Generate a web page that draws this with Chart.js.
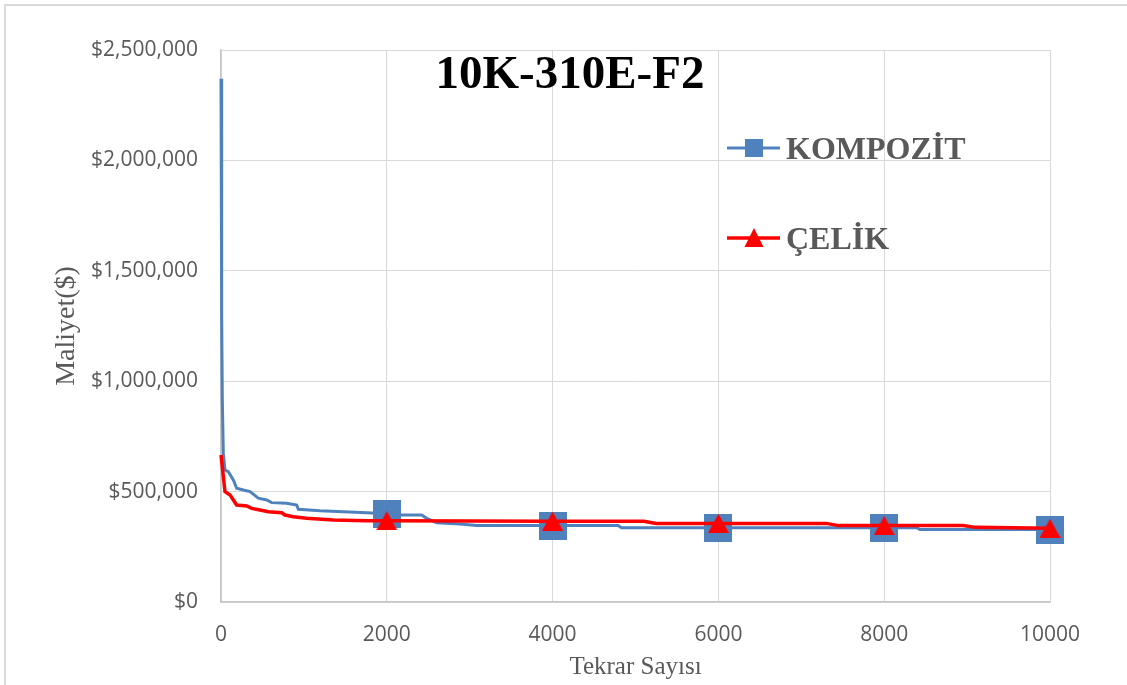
<!DOCTYPE html>
<html>
<head>
<meta charset="utf-8">
<title>10K-310E-F2</title>
<script src="https://cdn.jsdelivr.net/npm/chart.js@4/dist/chart.umd.min.js"></script>
<style>
  html, body { margin: 0; padding: 0; background: #ffffff; }
  #chart { display: block; }
</style>
</head>
<body>
<canvas id="chart" width="1127" height="685"></canvas>
<script>
// Iteration count (x) and cost (y) for the composite series
const kompozitX = [0, 8, 16, 28, 48, 88, 149, 189, 269, 350, 450, 551, 611, 792, 913, 933, 1194, 1757, 2000, 2180, 2421, 2481, 2602, 2883, 3084, 4000, 4790, 4830, 6000, 8000, 8394, 8430, 10000];
const kompozitY = [2370000, 1300000, 915000, 673000, 598000, 590000, 553000, 515000, 507000, 500000, 470000, 462000, 450000, 447000, 439000, 420000, 413000, 404000, 400000, 394000, 394000, 379000, 359000, 353000, 346000, 346000, 346000, 336000, 336000, 336000, 336000, 328000, 328000];

// Iteration count (x) and cost (y) for the steel series
const celikX = [0, 48, 109, 149, 189, 310, 370, 470, 571, 732, 772, 872, 1033, 1355, 1757, 2000, 4000, 5100, 5250, 6000, 7300, 7450, 8000, 8950, 9100, 10000];
const celikY = [666000, 500000, 485000, 462000, 439000, 435000, 424000, 417000, 409000, 404000, 394000, 386000, 379000, 371000, 368000, 368000, 366000, 366000, 356000, 356000, 356000, 346000, 346000, 346000, 338000, 334000];

// Iterations that carry a marker
const markerX = [2000, 4000, 6000, 8000, 10000];

// Axis tick labels
const xTickLabels = ['0', '2000', '4000', '6000', '8000', '10000'];
const yTickLabels = ['$0', '$500,000', '$1,000,000', '$1,500,000', '$2,000,000', '$2,500,000'];

const seriesNames = ['KOMPOZİT', 'ÇELİK'];
const chartTitle = '10K-310E-F2';

const BLUE = '#4f81bd';
const RED = '#ff0000';
const GRAY_TEXT = '#595959';

// Marker images: filled square and filled triangle
function makeSquare(size, color) {
  const c = document.createElement('canvas');
  c.width = size; c.height = size;
  const g = c.getContext('2d');
  g.fillStyle = color;
  g.fillRect(0, 0, size, size);
  return c;
}
function makeTriangle(w, h, color) {
  const c = document.createElement('canvas');
  c.width = w; c.height = h;
  const g = c.getContext('2d');
  g.fillStyle = color;
  g.beginPath();
  g.moveTo(w / 2, 0);
  g.lineTo(w, h);
  g.lineTo(0, h);
  g.closePath();
  g.fill();
  return c;
}
const squareImg = makeSquare(28, BLUE);
const triangleImg = makeTriangle(21, 19, RED);

const toPoints = (xs, ys) => xs.map((x, i) => ({ x: x, y: ys[i] }));
const markerRadius = (ctx) => (ctx.raw && markerX.includes(ctx.raw.x)) ? 10 : 0;

// Frame around the whole figure
const framePlugin = {
  id: 'frame',
  beforeDraw(chart) {
    const ctx = chart.ctx;
    ctx.save();
    ctx.fillStyle = '#ffffff';
    ctx.fillRect(0, 0, chart.width, chart.height);
    ctx.strokeStyle = '#d9d9d9';
    ctx.lineWidth = 2;
    ctx.beginPath();
    ctx.moveTo(5, chart.height + 2);
    ctx.lineTo(5, 5);
    ctx.lineTo(chart.width + 2, 5);
    ctx.stroke();
    ctx.restore();
  }
};

// Title and series key drawn inside the plot area
const overlayPlugin = {
  id: 'overlay',
  afterDraw(chart) {
    const ctx = chart.ctx;
    ctx.save();
    ctx.fillStyle = '#000000';
    ctx.font = 'bold 47px "Liberation Serif", "Times New Roman", serif';
    ctx.textAlign = 'center';
    ctx.textBaseline = 'alphabetic';
    ctx.fillText(chartTitle, 570, 88);

    // KOMPOZİT key
    ctx.strokeStyle = BLUE;
    ctx.lineWidth = 3;
    ctx.beginPath();
    ctx.moveTo(727, 148);
    ctx.lineTo(780, 148);
    ctx.stroke();
    ctx.fillStyle = BLUE;
    ctx.fillRect(745, 139, 18, 18);

    // ÇELİK key
    ctx.strokeStyle = RED;
    ctx.lineWidth = 3.5;
    ctx.beginPath();
    ctx.moveTo(727, 238);
    ctx.lineTo(780, 238);
    ctx.stroke();
    ctx.fillStyle = RED;
    ctx.beginPath();
    ctx.moveTo(754, 228);
    ctx.lineTo(763.5, 247);
    ctx.lineTo(744.5, 247);
    ctx.closePath();
    ctx.fill();

    ctx.fillStyle = GRAY_TEXT;
    ctx.font = 'bold 32px "Liberation Serif", "Times New Roman", serif';
    ctx.textAlign = 'left';
    ctx.fillText(seriesNames[0], 786, 159);
    ctx.fillText(seriesNames[1], 786, 249);
    ctx.restore();
  }
};

const tickFont = { family: '"Open Sans", sans-serif', size: 21 };
const titleFontFamily = '"Liberation Serif", "Times New Roman", serif';

new Chart(document.getElementById('chart'), {
  type: 'line',
  data: {
    datasets: [
      {
        label: seriesNames[0],
        data: toPoints(kompozitX, kompozitY),
        borderColor: BLUE,
        backgroundColor: BLUE,
        borderWidth: 3,
        tension: 0,
        pointStyle: squareImg,
        pointRadius: markerRadius,
        pointHoverRadius: markerRadius,
        clip: false,
        order: 2
      },
      {
        label: seriesNames[1],
        data: toPoints(celikX, celikY),
        borderColor: RED,
        backgroundColor: RED,
        borderWidth: 3.5,
        tension: 0,
        pointStyle: triangleImg,
        pointRadius: markerRadius,
        pointHoverRadius: markerRadius,
        clip: false,
        order: 1
      }
    ]
  },
  options: {
    responsive: false,
    animation: false,
    devicePixelRatio: 1,
    layout: { padding: { top: 50, right: 77, left: 0, bottom: 0 } },
    plugins: {
      legend: { display: false },
      tooltip: { enabled: false },
      title: { display: false }
    },
    scales: {
      x: {
        type: 'linear',
        min: 0,
        max: 10000,
        afterFit(scale) { scale.height = 83; },
        afterBuildTicks(scale) {
          scale.ticks = xTickLabels.map(t => ({ value: Number(t) }));
        },
        ticks: {
          font: tickFont,
          color: GRAY_TEXT,
          padding: 20,
          maxRotation: 0,
          callback: (v, i) => xTickLabels[i]
        },
        grid: { color: '#d9d9d9', lineWidth: 1, drawTicks: false },
        border: { color: '#c6c6c6', width: 1.5 },
        title: {
          display: true,
          text: 'Tekrar Sayısı',
          color: GRAY_TEXT,
          font: { family: titleFontFamily, size: 25 },
          padding: { top: 0, bottom: 3 }
        }
      },
      y: {
        type: 'linear',
        min: 0,
        max: 2500000,
        afterFit(scale) { scale.width = 221; },
        afterBuildTicks(scale) {
          scale.ticks = yTickLabels.map((t, i) => ({ value: i * 500000 }));
        },
        ticks: {
          font: tickFont,
          color: GRAY_TEXT,
          padding: 23,
          callback: (v, i) => yTickLabels[i]
        },
        grid: { color: '#d9d9d9', lineWidth: 1, drawTicks: false },
        border: { color: '#c6c6c6', width: 1.5 },
        title: {
          display: true,
          text: 'Maliyet($)',
          color: GRAY_TEXT,
          font: { family: titleFontFamily, size: 28 },
          padding: { top: 50, bottom: 0 }
        }
      }
    }
  },
  plugins: [framePlugin, overlayPlugin]
});
</script>
</body>
</html>
